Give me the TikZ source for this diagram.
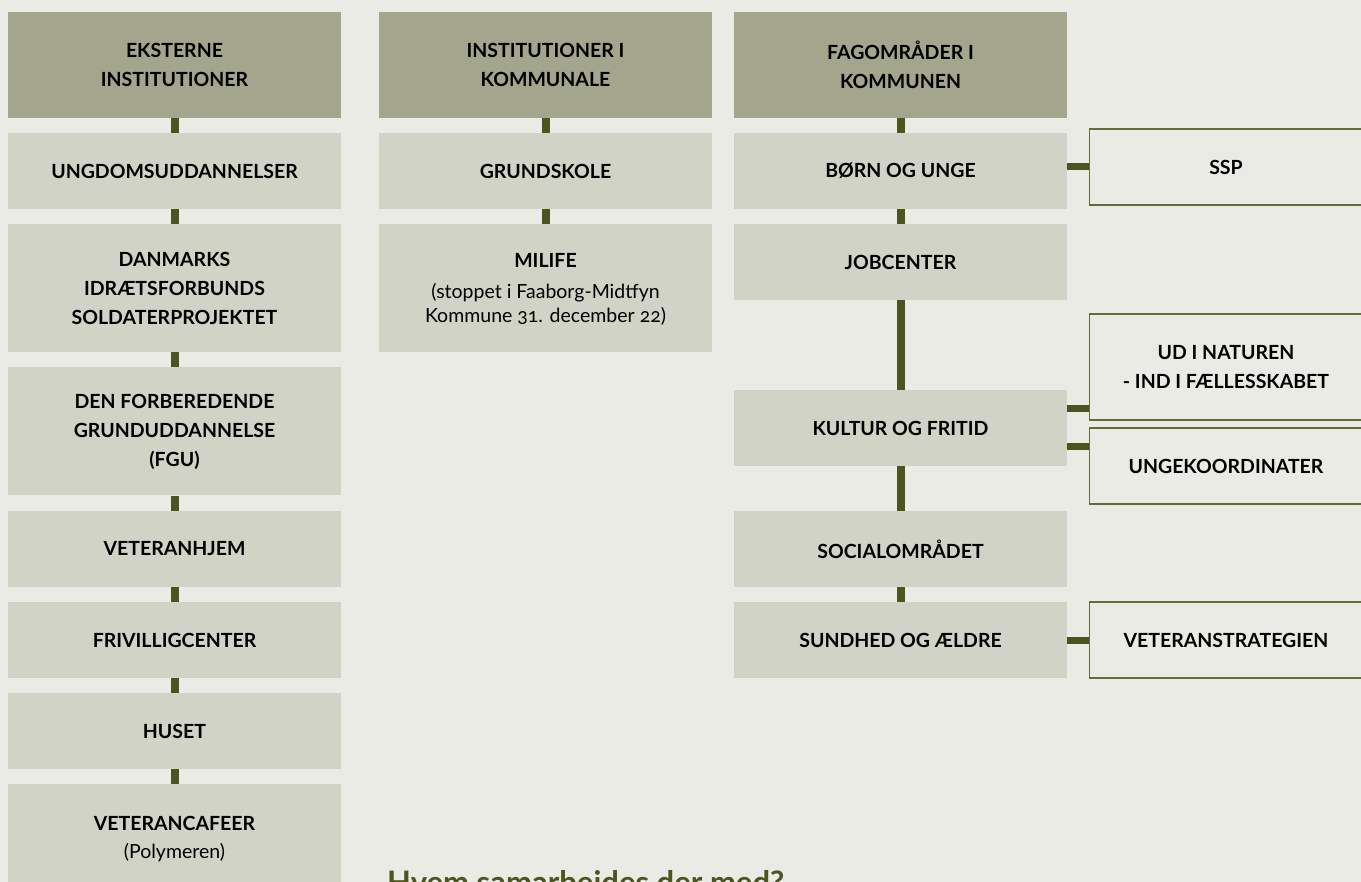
\documentclass[tikz,border=0pt]{standalone}
\usepackage{fontspec}
\setmainfont{Lato}[Numbers=OldStyle]
\definecolor{bgc}{HTML}{EBEBE6}
\definecolor{headc}{HTML}{A3A68C}
\definecolor{lightc}{HTML}{D1D3C6}
\definecolor{connc}{HTML}{4D541F}
\definecolor{bordc}{HTML}{646B3A}
\definecolor{titlec}{HTML}{4D541F}
\tikzset{
  box/.style={rectangle, inner sep=0pt, minimum width=333pt, align=center,
    font=\bfseries\fontsize{19.5}{29}\selectfont, text=black},
  head/.style={box, fill=headc, minimum height=106pt},
  lbox/.style={box, fill=lightc, minimum height=76pt},
  tallbox/.style={box, fill=lightc, minimum height=128pt},
  wbox/.style={box, fill=bgc, draw=bordc, line width=1.5pt, minimum width=273pt, minimum height=76pt},
  conn/.style={draw=connc, line width=8pt},
  hconn/.style={draw=connc, line width=7pt},
}
\begin{document}
\begin{tikzpicture}[x=1pt,y=-1pt]
\useasboundingbox (0,0) rectangle (1361,882);
\fill[bgc] (0,0) rectangle (1361,882);

% column 1
\node[head] (h1) at (174.5,65) {EKSTERNE\\INSTITUTIONER};
\node[lbox] (ung) at (174.5,171) {UNGDOMSUDDANNELSER};
\node[tallbox] (dif) at (174.5,288) {DANMARKS\\IDRÆTSFORBUNDS\\SOLDATERPROJEKTET};
\node[tallbox] (fgu) at (174.5,431.5) {DEN FORBEREDENDE\\GRUNDUDDANNELSE\\(FGU)};
\node[lbox] (vhj) at (174.5,549) {VETERANHJEM};
\node[lbox] (fri) at (174.5,640) {FRIVILLIGCENTER};
\node[lbox] (hus) at (174.5,731) {HUSET};
\node[tallbox, anchor=north] (caf) at (174.5,784) {};
\node[box, anchor=base, font=\bfseries\fontsize{19.5}{28}\selectfont] (caft) at (174.5,858) {VETERANCAFEER\\{\mdseries (Polymeren)}};

% column 2
\node[head] (h2) at (545.5,65) {INSTITUTIONER I\\KOMMUNALE};
\node[lbox] (gru) at (545.5,171) {GRUNDSKOLE};
\node[tallbox] (mil) at (545.5,288) {};
\node[box, anchor=base, font=\bfseries\fontsize{19.5}{24}\selectfont] (milt) at (545.5,323)
  {MILIFE\\[7pt]{\mdseries (stoppet i Faaborg-Midtfyn}\\{\mdseries Kommune 31. december 22)}};

% column 3
\node[head] (h3) at (900.5,65) {FAGOMRÅDER I\\KOMMUNEN};
\node[lbox] (bou) at (900.5,171) {BØRN OG UNGE};
\node[lbox] (job) at (900.5,262) {JOBCENTER};
\node[lbox] (kul) at (900.5,428) {KULTUR OG FRITID};
\node[lbox] (soc) at (900.5,549) {SOCIALOMRÅDET};
\node[lbox] (sun) at (900.5,640) {SUNDHED OG ÆLDRE};

% right column
\node[wbox] (ssp) at (1226,167) {SSP};
\node[wbox, minimum height=106pt] (udn) at (1226,367) {UD I NATUREN\\- IND I FÆLLESSKABET};
\node[wbox] (ukd) at (1226,466) {UNGEKOORDINATER};
\node[wbox] (vst) at (1226,640) {VETERANSTRATEGIEN};

% connectors column 1
\draw[conn] (h1.south) -- (ung.north);
\draw[conn] (ung.south) -- (dif.north);
\draw[conn] (dif.south) -- (fgu.north);
\draw[conn] (fgu.south) -- (vhj.north);
\draw[conn] (vhj.south) -- (fri.north);
\draw[conn] (fri.south) -- (hus.north);
\draw[conn] (hus.south) -- (caf.north);
% column 2
\draw[conn] (h2.south) -- (gru.north);
\draw[conn] (gru.south) -- (mil.north);
% column 3
\draw[conn] (h3.south) -- (bou.north);
\draw[conn] (bou.south) -- (job.north);
\draw[conn] (job.south) -- (kul.north);
\draw[conn] (kul.south) -- (soc.north);
\draw[conn] (soc.south) -- (sun.north);
% horizontal
\draw[hconn] (ssp.west -| bou.east) -- (ssp.west);
\coordinate (k1) at ([yshift=19pt]kul.east);
\coordinate (k2) at ([yshift=-19pt]kul.east);
\draw[hconn] (k1) -- (k1 -| udn.west);
\draw[hconn] (k2) -- (k2 -| ukd.west);
\draw[hconn] (sun.east) -- (vst.west);

% title
\node[anchor=base west, inner sep=0pt, text=titlec, font=\bfseries\fontsize{31}{34}\selectfont] (title) at (387,893) {Hvem samarbeides der med?};
\end{tikzpicture}
\end{document}
